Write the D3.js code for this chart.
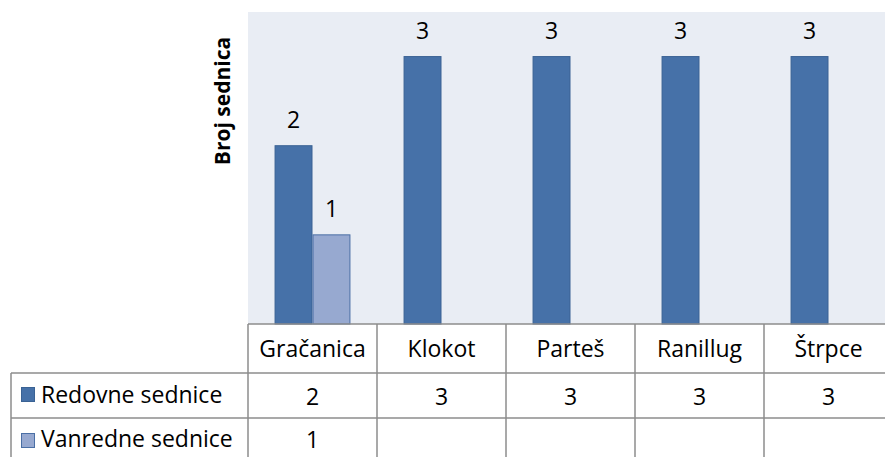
<!DOCTYPE html>
<html><head><meta charset="utf-8">
<script src="https://cdn.jsdelivr.net/npm/d3@7"></script>
<style>body{margin:0;background:#fff}svg{display:block}text{font-family:"Open Sans",Lato,sans-serif;fill:#000}</style>
</head><body><div id="c"></div>
<script>
const categories = ["Gračanica","Klokot","Parteš","Ranillug","Štrpce"];
const seriesNames = ["Redovne sednice","Vanredne sednice"];
const redovne = [2,3,3,3,3];
const vanredne = [1,null,null,null,null];
const yAxisTitle = "Broj sednica";
const colors = ["#4671A8","#97A9D0"];
const strokes = ["#3A6294","#4A6FA5"];

const W=885,H=457;
const FS=23;
const svg=d3.select("#c").append("svg").attr("width",W).attr("height",H);
const plotL=248, plotR=893, plotT=12, base=324;
const x0=d3.scaleBand().domain(categories).range([plotL,plotR]).padding(0);
const x1=d3.scaleBand().domain(seriesNames).range([0,x0.bandwidth()]).paddingInner(0).paddingOuter(0.7);
const y=d3.scaleLinear().domain([0,3.5]).range([base,plotT]);
const data=[redovne,vanredne];

svg.append("rect").attr("x",plotL).attr("y",plotT).attr("width",plotR-plotL).attr("height",base-plotT).attr("fill","#E9EDF4");

seriesNames.forEach((s,si)=>{
  const g=svg.append("g");
  categories.forEach((c,ci)=>{
    const v=data[si][ci];
    if(v==null) return;
    const bx=x0(c)+x1(s);
    g.append("rect").attr("x",bx+0.5).attr("y",y(v)).attr("width",x1.bandwidth()-1).attr("height",base-y(v))
      .attr("fill",colors[si]).attr("stroke",strokes[si]).attr("stroke-width",1);
    g.append("text").attr("x",bx+x1.bandwidth()/2).attr("y",y(v)-18).attr("text-anchor","middle")
      .attr("font-size",FS).text(v);
  });
});

svg.append("text").attr("transform","translate(230,101) rotate(-90)").attr("text-anchor","middle")
  .attr("font-size",21).attr("font-weight","bold").text(yAxisTitle);

// table
const rowTop=324,row1=373,row2=418,legL=11;
const line=(x1_,y1_,x2_,y2_)=>svg.append("line").attr("x1",x1_).attr("y1",y1_).attr("x2",x2_).attr("y2",y2_).attr("stroke","#8C8C8C").attr("stroke-width",1.5);
line(plotL,rowTop,plotR,rowTop);
line(legL,row1,plotR,row1);
line(legL,row2,plotR,row2);
categories.forEach(c=>{ line(x0(c),rowTop,x0(c),H); });
line(plotR,rowTop,plotR,H);
line(legL,row1,legL,H);

categories.forEach((c,ci)=>{
  const cx=x0(c)+x0.bandwidth()/2;
  svg.append("text").attr("x",cx).attr("y",357).attr("text-anchor","middle").attr("font-size",FS).text(c);
  if(redovne[ci]!=null) svg.append("text").attr("x",cx).attr("y",405).attr("text-anchor","middle").attr("font-size",FS).text(redovne[ci]);
  if(vanredne[ci]!=null) svg.append("text").attr("x",cx).attr("y",448).attr("text-anchor","middle").attr("font-size",FS).text(vanredne[ci]);
});
const sqY=[387,433], txtY=[403,447];
seriesNames.forEach((s,si)=>{
  svg.append("rect").attr("x",21.5).attr("y",sqY[si]+0.5).attr("width",13).attr("height",14)
    .attr("fill",colors[si]).attr("stroke",strokes[si]);
  svg.append("text").attr("x",41).attr("y",txtY[si]).attr("font-size",FS).text(s);
});
</script></body></html>
